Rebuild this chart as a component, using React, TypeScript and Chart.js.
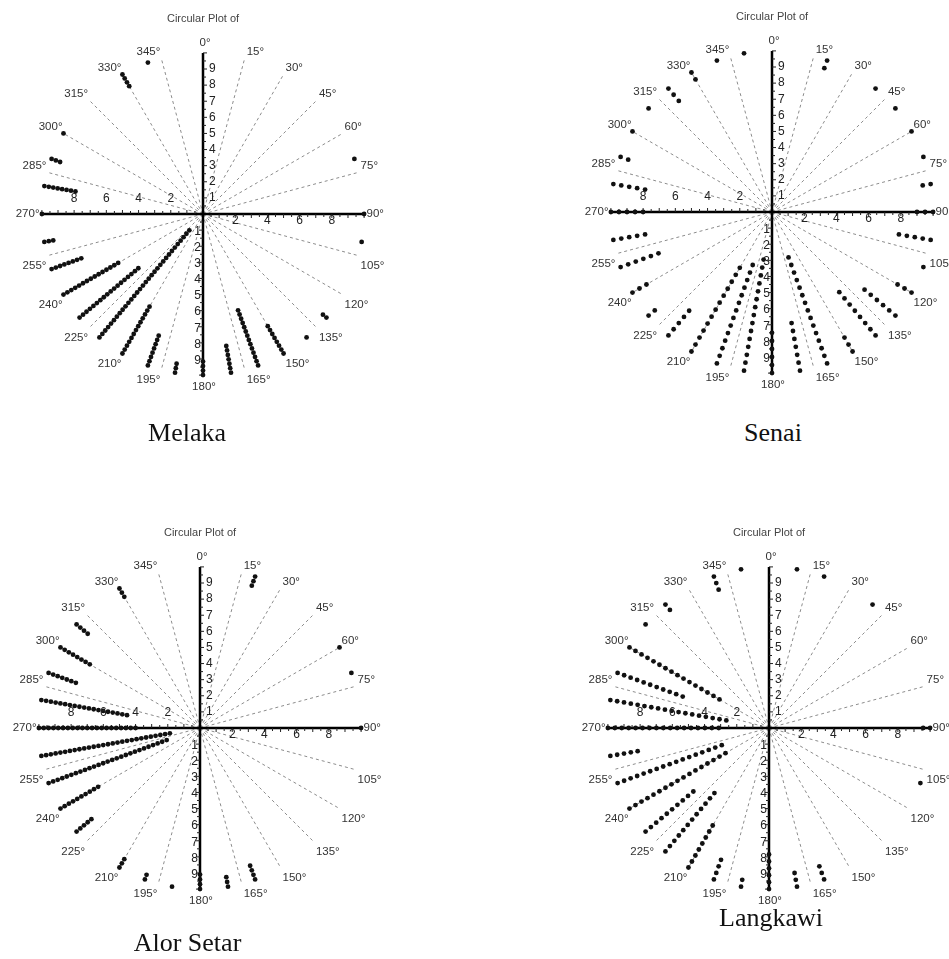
import React, { useEffect, useRef } from 'react';
import { Chart, registerables } from 'chart.js';

Chart.register(...registerables);

// ---------- data ----------
const BIN_DIRECTIONS = [0, 10, 20, 30, 40, 50, 60, 70, 80, 90, 100, 110, 120, 130, 140, 150, 160, 170, 180, 190, 200, 210, 220, 230, 240, 250, 260, 270, 280, 290, 300, 310, 320, 330, 340, 350];

const MELAKA_COUNTS = [0, 0, 0, 0, 0, 0, 0, 1, 0, 1, 1, 0, 0, 2, 1, 8, 14, 7, 4, 3, 8, 13, 32, 18, 15, 8, 3, 1, 8, 3, 1, 0, 0, 4, 1, 0];
const SENAI_COUNTS = [0, 0, 2, 0, 1, 1, 1, 1, 2, 3, 5, 1, 3, 6, 8, 3, 15, 7, 6, 15, 14, 13, 5, 2, 3, 6, 5, 5, 5, 2, 1, 1, 3, 2, 1, 1];
const ALOR_SETAR_COUNTS = [0, 0, 3, 0, 0, 0, 1, 1, 0, 1, 0, 0, 0, 0, 0, 0, 4, 3, 4, 1, 2, 3, 0, 5, 10, 27, 28, 21, 19, 7, 8, 4, 0, 3, 0, 0];
const LANGKAWI_COUNTS = [0, 1, 1, 0, 1, 0, 0, 0, 0, 2, 0, 1, 0, 0, 0, 0, 3, 3, 6, 2, 4, 8, 12, 10, 17, 17, 5, 17, 18, 11, 16, 1, 2, 0, 3, 1];

const GUIDE_ANGLES = [15, 30, 45, 60, 75, 105, 120, 135, 150, 165, 195, 210, 225, 240, 255, 285, 300, 315, 330, 345];
const GUIDE_LABELS = ['15°', '30°', '45°', '60°', '75°', '105°', '120°', '135°', '150°', '165°', '195°', '210°', '225°', '240°', '255°', '285°', '300°', '315°', '330°', '345°'];
const AXIS_LABELS = ['0°', '90°', '180°', '270°'];
const VERTICAL_TICKS = [1, 2, 3, 4, 5, 6, 7, 8, 9];
const HORIZONTAL_TICKS = [2, 4, 6, 8];
const PLOT_TITLE = 'Circular Plot of';

// ---------- geometry ----------
const UNIT = 16.3; // px per unit
const HALF = 206; // half canvas size px
const RANGE = HALF / UNIT;
const RING = 10;

const PANELS = [
  { name: 'Melaka', counts: MELAKA_COUNTS, step: 0.28, cx: 202.5, cy: 214, capX: 187, capBase: 442 },
  { name: 'Senai', counts: SENAI_COUNTS, step: 0.5, cx: 772, cy: 212, capX: 773, capBase: 442 },
  { name: 'Alor Setar', counts: ALOR_SETAR_COUNTS, step: 0.3, cx: 200, cy: 728, capX: 187.5, capBase: 952 },
  { name: 'Langkawi', counts: LANGKAWI_COUNTS, step: 0.43, cx: 768.5, cy: 728, capX: 771, capBase: 927 },
];

function stackDots(counts: number[], step: number) {
  const pts: { x: number; y: number }[] = [];
  counts.forEach((n, i) => {
    const t = (BIN_DIRECTIONS[i] * Math.PI) / 180;
    for (let k = 0; k < n; k++) {
      const r = RING - k * step;
      pts.push({ x: r * Math.sin(t), y: r * Math.cos(t) });
    }
  });
  return pts;
}

const SANS = '"Liberation Sans", Arial, sans-serif';

const circularPlugin = {
  id: 'circularFrame',
  beforeDatasetsDraw(chart: any) {
    const { ctx } = chart;
    const xs = chart.scales.x;
    const ys = chart.scales.y;
    const px = (v: number) => xs.getPixelForValue(v);
    const py = (v: number) => ys.getPixelForValue(v);
    const cx = px(0);
    const cy = py(0);
    ctx.save();
    // radial dashed guides
    ctx.strokeStyle = '#8c8c8c';
    ctx.lineWidth = 1;
    ctx.setLineDash([3, 3]);
    GUIDE_ANGLES.forEach((a) => {
      const t = (a * Math.PI) / 180;
      ctx.beginPath();
      ctx.moveTo(cx, cy);
      ctx.lineTo(px(RING * Math.sin(t)), py(RING * Math.cos(t)));
      ctx.stroke();
    });
    ctx.setLineDash([]);
    // axes
    ctx.strokeStyle = '#000';
    ctx.lineWidth = 2.5;
    ctx.beginPath();
    ctx.moveTo(px(-RING), cy);
    ctx.lineTo(px(RING), cy);
    ctx.moveTo(cx, py(RING));
    ctx.lineTo(cx, py(-RING));
    ctx.stroke();
    // tick marks
    ctx.lineWidth = 1;
    ctx.strokeStyle = '#222';
    ctx.beginPath();
    for (let v = 0.5; v <= RING + 0.01; v += 0.5) {
      const len = Math.abs(v - Math.round(v)) < 0.01 ? 4 : 3;
      ctx.moveTo(px(v), cy);
      ctx.lineTo(px(v), cy + len);
      ctx.moveTo(px(-v), cy);
      ctx.lineTo(px(-v), cy - len);
      ctx.moveTo(cx, py(v));
      ctx.lineTo(cx + len, py(v));
      ctx.moveTo(cx, py(-v));
      ctx.lineTo(cx - len, py(-v));
    }
    ctx.stroke();
    ctx.restore();
  },
  afterDraw(chart: any) {
    const { ctx } = chart;
    const xs = chart.scales.x;
    const ys = chart.scales.y;
    const px = (v: number) => xs.getPixelForValue(v);
    const py = (v: number) => ys.getPixelForValue(v);
    const cx = px(0);
    const cy = py(0);
    ctx.save();
    // title
    ctx.fillStyle = '#444';
    ctx.font = `11px ${SANS}`;
    ctx.textAlign = 'center';
    ctx.textBaseline = 'middle';
    ctx.fillText(PLOT_TITLE, cx, cy - 195);

    // tick labels
    ctx.fillStyle = '#222';
    ctx.font = `12px ${SANS}`;
    VERTICAL_TICKS.forEach((v) => {
      ctx.textAlign = 'left';
      ctx.textBaseline = 'middle';
      ctx.fillText(String(v), cx + 6, py(v));
      ctx.textAlign = 'right';
      ctx.fillText(String(v), cx - 2, py(-v) + 1.5);
    });
    HORIZONTAL_TICKS.forEach((v) => {
      ctx.textAlign = 'center';
      ctx.textBaseline = 'middle';
      ctx.fillText(String(v), px(v), cy + 7);
      ctx.fillText(String(v), px(-v), cy - 15);
    });

    // degree labels
    ctx.fillStyle = '#333';
    ctx.font = `11.5px ${SANS}`;
    GUIDE_ANGLES.forEach((a, i) => {
      const t = (a * Math.PI) / 180;
      const ex = px(RING * Math.sin(t));
      const ey = py(RING * Math.cos(t));
      const right = Math.sin(t) > 0;
      const upper = Math.cos(t) > 0;
      ctx.textAlign = right ? 'left' : 'right';
      ctx.textBaseline = 'alphabetic';
      ctx.fillText(GUIDE_LABELS[i], ex + (right ? 2 : -1), upper ? ey - 3.5 : ey + 13.5);
    });
    ctx.textBaseline = 'middle';
    ctx.textAlign = 'center';
    ctx.fillText(AXIS_LABELS[0], cx + 2, py(10.6));
    ctx.fillText(AXIS_LABELS[2], cx + 1, py(-10.7));
    ctx.textAlign = 'left';
    ctx.fillText(AXIS_LABELS[1], px(10.15), cy);
    ctx.textAlign = 'right';
    ctx.fillText(AXIS_LABELS[3], px(-10.15), cy);
    ctx.restore();
  },
};

function Panel(props: { counts: number[]; step: number; cx: number; cy: number }) {
  const ref = useRef<HTMLCanvasElement | null>(null);
  useEffect(() => {
    if (!ref.current) return;
    const chart = new Chart(ref.current, {
      type: 'scatter',
      data: {
        datasets: [
          {
            data: stackDots(props.counts, props.step),
            pointRadius: 2.4,
            pointHoverRadius: 2.4,
            backgroundColor: '#111',
            borderWidth: 0,
          },
        ],
      },
      options: {
        animation: false,
        responsive: false,
        maintainAspectRatio: false,
        layout: { padding: 0 },
        plugins: { legend: { display: false }, tooltip: { enabled: false }, title: { display: false } },
        events: [],
        scales: {
          x: { type: 'linear', min: -RANGE, max: RANGE, display: false },
          y: { type: 'linear', min: -RANGE, max: RANGE, display: false },
        },
      } as any,
      plugins: [circularPlugin as any],
    });
    return () => chart.destroy();
  }, [props.counts, props.step]);
  return (
    <canvas
      ref={ref}
      width={HALF * 2}
      height={HALF * 2}
      style={{ position: 'absolute', left: props.cx - HALF, top: props.cy - HALF, width: HALF * 2, height: HALF * 2 }}
    />
  );
}

export default function App() {
  return (
    <div style={{ position: 'absolute', left: 0, top: 0, width: 949, height: 959, overflow: 'hidden', background: '#fff' }}>
      {PANELS.map((p) => (
        <React.Fragment key={p.name}>
          <Panel counts={p.counts} step={p.step} cx={p.cx} cy={p.cy} />
          <div
            style={{
              position: 'absolute',
              left: p.capX - 120,
              width: 240,
              top: p.capBase - 22,
              textAlign: 'center',
              fontFamily: '"Liberation Serif", "Times New Roman", serif',
              fontSize: 26,
              lineHeight: '26px',
              color: '#111',
              whiteSpace: 'nowrap',
            }}
          >
            {p.name}
          </div>
        </React.Fragment>
      ))}
    </div>
  );
}
